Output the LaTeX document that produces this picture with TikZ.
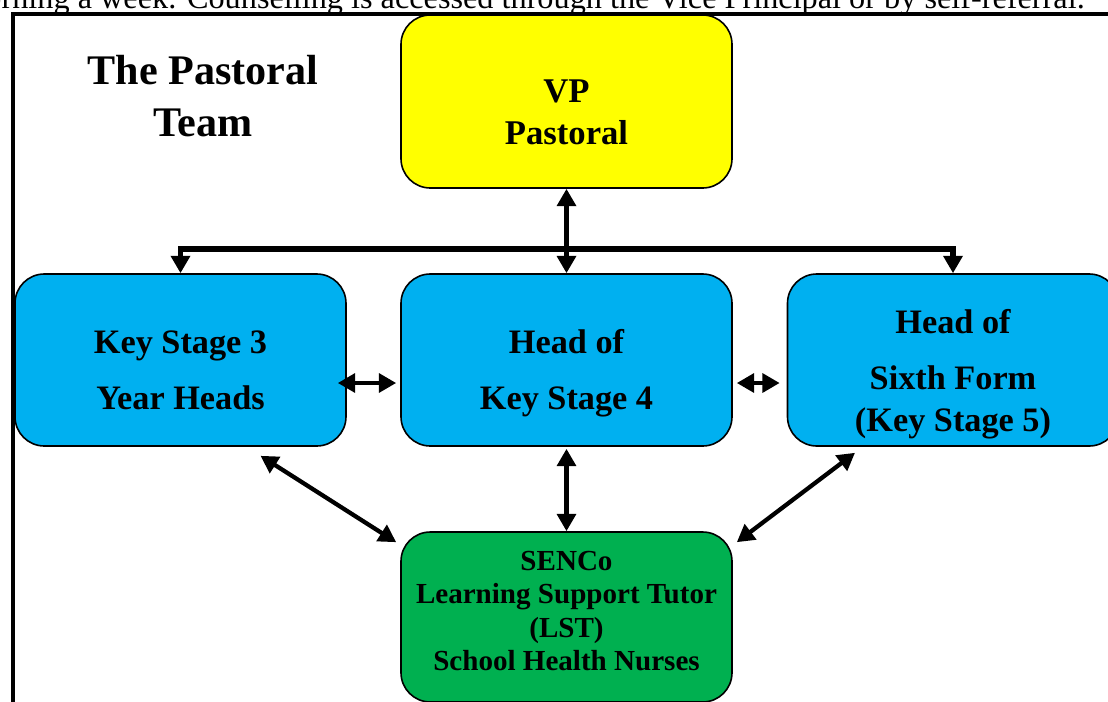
\documentclass[tikz,border=0pt]{standalone}
\usepackage{fontspec}
\setmainfont{Liberation Serif}
\usetikzlibrary{arrows.meta,calc,positioning}
\definecolor{vpyellow}{HTML}{FFFF00}
\definecolor{ksblue}{HTML}{00B0F0}
\definecolor{sencogreen}{HTML}{00B050}

\begin{document}
\begin{tikzpicture}[x=0.75pt,y=-0.75pt,
    >={Triangle[width=14pt,length=13pt]},
    teambox/.style={draw,line width=1.2pt,rounded corners=22pt,
      minimum width=248.25pt,minimum height=129pt,inner sep=0pt},
    boxtext/.style={align=center,font=\fontsize{25.7pt}{42pt}\selectfont\bfseries},
    bus/.style={line width=3.8pt},
    link/.style={line width=3.2pt}]
    \useasboundingbox (0,0) rectangle (1108,701);

    % frame and the cut-off line of text above it
    \node[anchor=base east,inner sep=0pt,font=\fontsize{24.2pt}{29pt}\selectfont] (note) at (1085,8)
      {orning a week. Counselling is accessed through the Vice Principal or by self-referral.};
    \draw[line width=3pt] (13,13.5) rectangle (1130,715);

    \node[align=center,font=\fontsize{31.6pt}{39pt}\selectfont\bfseries] (title) at (203,96.5) {The Pastoral\\Team};

    % boxes
    \node[teambox,fill=vpyellow,minimum height=129.75pt] (vp) at (566.5,101.5) {};
    \node[teambox,fill=ksblue] (ks3) at (180.5,360) {};
    \node[teambox,fill=ksblue] (ks4) at (566.5,360) {};
    \node[teambox,fill=ksblue] (sixth) at (953,360) {};
    \node[teambox,fill=sencogreen,minimum height=127.5pt] (senco) at (566.5,617) {};

    \node[align=center,font=\fontsize{26pt}{31.5pt}\selectfont\bfseries] (vptext) at ($(vp)+(0,10.5)$) {VP\\Pastoral};
    \node[boxtext] (ks3text) at ($(ks3)+(0,10)$) {Key Stage 3\\Year Heads};
    \node[boxtext] (ks4text) at ($(ks4)+(0,13)$) {Head of\\Key Stage 4};
    \node[boxtext,font=\fontsize{25.7pt}{31.5pt}\selectfont\bfseries] (sixthtext) at ($(sixth)+(0,14)$)
      {Head of\\[10.5pt]Sixth Form\\(Key Stage 5)};
    \node[align=center,font=\fontsize{21.8pt}{25pt}\selectfont\bfseries] (sencotext) at ($(senco)+(0,-6)$)
      {SENCo\\Learning Support Tutor\\(LST)\\School Health Nurses};

    % connectors
    \coordinate (junction) at (566.5,249);
    \draw[bus,<->] (vp.south) -- (ks4.north);
    \draw[bus,->] (junction) -| (ks3.north);
    \draw[bus,->] (junction) -| (sixth.north);

    \draw[link,<->] ($(ks3.east)+(-9,23)$) -- ($(ks4.west)+(-4,23)$);
    \draw[link,<->] ($(ks4.east)+(4,23)$) -- ($(sixth.west)+(-7,23)$);

    \draw[link,<->] ($(ks4.south)+(0,2)$) -- (senco.north);
    \draw[link,<->] ($(ks3.south)+(80,9)$) -- ($(senco.north west)+(-4,11)$);
    \draw[link,<->] ($(sixth.south)+(-98,6)$) -- ($(senco.north east)+(4,11)$);
\end{tikzpicture}
\end{document}
